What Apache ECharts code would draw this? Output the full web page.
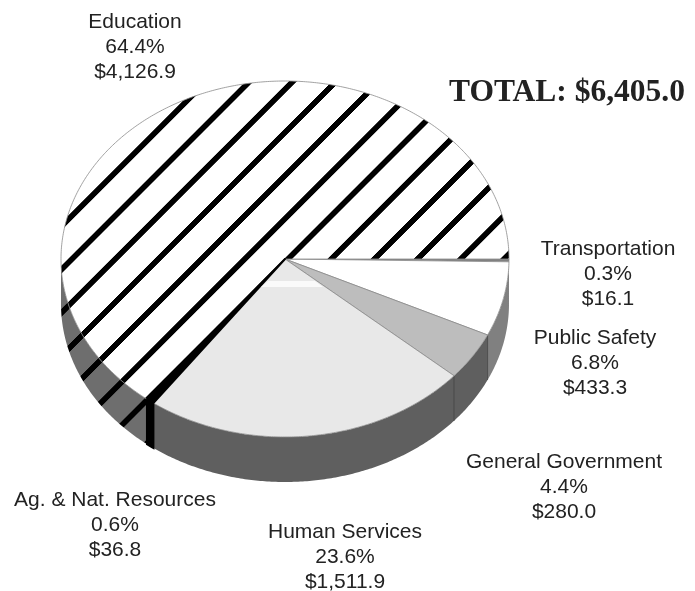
<!DOCTYPE html>
<html>
<head>
<meta charset="utf-8">
<style>html,body{margin:0;padding:0;background:#fff}#c{width:695px;height:591px}</style>
<script src="https://cdn.jsdelivr.net/npm/echarts@6/dist/echarts.min.js"></script>
</head>
<body>
<div id="c"></div>
<script>
// Data
const categories = ['Transportation','Public Safety','General Government','Human Services','Ag. & Nat. Resources','Education'];
const amounts = [16.1, 433.3, 280.0, 1511.9, 36.8, 4126.9];
const amountLabels = ['$16.1','$433.3','$280.0','$1,511.9','$36.8','$4,126.9'];
const percentLabels = ['0.3%','6.8%','4.4%','23.6%','0.6%','64.4%'];
const totalLabel = 'TOTAL: $6,405.0';

// Layout and style
const CX = 285, CY = 259, RX = 224, RY = 178, DEPTH = 45;
const labelCentres = [[608,248.5],[595,337.5],[564,461.5],[345,531.5],[115,499.5],[135,21.5]];
const LINE_H = 25;

function hatch(bg) {
  const n = 130, c = document.createElement('canvas');
  c.width = c.height = n;
  const g = c.getContext('2d');
  g.fillStyle = bg; g.fillRect(0,0,n,n);
  g.strokeStyle = '#000'; g.lineWidth = 17;
  [[-n,n,n,-n],[0,n,n,0],[0,2*n,2*n,0]].forEach(function(l){
    g.beginPath(); g.moveTo(l[0],l[1]); g.lineTo(l[2],l[3]); g.stroke();
  });
  return {image:c, repeat:'repeat', x:28.6, y:0, scaleX:43.2/n, scaleY:43.2/n};
}
const topFills = ['#808080','#ffffff','#bdbdbd','#e8e8e8','#000000',hatch('#ffffff')];
const sideFills = ['#a0a0a0','#808080','#5f5f5f','#5f5f5f','#000000',hatch('#6e6e6e')];
const AG = 4;

const total = amounts.reduce(function(a,b){return a+b;},0);
const spans = [];
amounts.reduce(function(acc,v){
  const next = acc + v/total*Math.PI*2;
  spans.push([acc,next]);
  return next;
},0);
function pt(a,dy){ return [CX+RX*Math.cos(a), CY+RY*Math.sin(a)+(dy||0)]; }
function arc(a0,a1,dy){
  const n = Math.max(2,Math.ceil((a1-a0)/0.01)), out=[];
  for(let i=0;i<=n;i++) out.push(pt(a0+(a1-a0)*i/n,dy));
  return out;
}

function renderSide(params){
  const i = params.dataIndex, s = spans[i];
  const a0 = Math.max(s[0],0), a1 = Math.min(s[1],Math.PI);
  if(a1<=a0) return {type:'group',children:[]};
  const pts = arc(a0,a1,0).concat(arc(a0,a1,DEPTH).reverse());
  const kids = [{type:'polygon',z2:i===AG?5:0,shape:{points:pts},
    style:{fill:sideFills[i],stroke:i===AG?'#000000':null,lineWidth:2}}];
  if(a0>0.2 && a0<2){
    const p = pt(a0);
    kids.push({type:'line',z2:6,shape:{x1:p[0],y1:p[1],x2:p[0],y2:p[1]+DEPTH},style:{stroke:'#3c3c3c',lineWidth:0.8}});
  }
  return {type:'group',children:kids};
}
function renderTop(params){
  const i = params.dataIndex, s = spans[i];
  const pts = [[CX,CY]].concat(arc(s[0],s[1],0));
  return {type:'polygon',z2:i===AG?5:0,shape:{points:pts},
    style:{fill:topFills[i],stroke:i===AG?'#000000':'#8a8a8a',lineWidth:i===AG?2:0.8,lineJoin:'round'}};
}

const texts = categories.map(function(name,i){
  return {
    type:'text', z:20, silent:true, x:labelCentres[i][0], y:labelCentres[i][1]-12,
    style:{
      text:[name,percentLabels[i],amountLabels[i]].join('\n'),
      font:'21px "Liberation Sans", Arial, sans-serif',
      fill:'#222222', align:'center', verticalAlign:'top', lineHeight:LINE_H
    }
  };
});
const band = {type:'polygon',z:15,silent:true,
  shape:{points:[[268,281],[315,281],[323,287],[261,287]]},style:{fill:'#fafafa'}};
const totalText = {type:'text',z:20,silent:true,left:449,top:77,
  style:{text:totalLabel,font:'bold 31.5px "Liberation Serif", "Times New Roman", serif',fill:'#222222'}};

const chart = echarts.init(document.getElementById('c'),null,{renderer:'canvas'});
chart.setOption({
  backgroundColor:'#ffffff',
  animation:false,
  graphic:{elements:[band,totalText].concat(texts)},
  series:[
    {type:'custom',name:'side',coordinateSystem:'none',silent:true,z:1,renderItem:renderSide,data:amounts},
    {type:'custom',name:'top',coordinateSystem:'none',silent:true,z:2,renderItem:renderTop,data:amounts}
  ]
});
</script>
</body>
</html>
